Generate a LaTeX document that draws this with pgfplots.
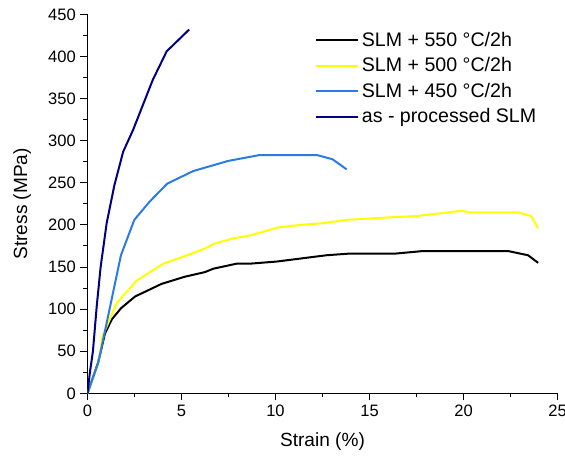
\documentclass[border=0pt]{standalone}
\usepackage{pgfplots}
\pgfplotsset{compat=1.18}
\usepackage{fontspec}
\setmainfont{Liberation Sans}

\definecolor{c450}{RGB}{42,123,228}
\definecolor{cas}{RGB}{0,0,128}
\definecolor{c500}{RGB}{255,255,0}

\begin{document}
\begin{tikzpicture}
\begin{axis}[
    at={(0pt,0pt)}, anchor=south west,
    width=352.5pt, height=284.25pt, scale only axis,
    xmin=0, xmax=25, ymin=0, ymax=450,
    xtick={0,5,10,15,20,25},
    ytick={0,50,100,150,200,250,300,350,400,450},
    minor x tick num=1, minor y tick num=1,
    axis x line*=bottom, axis y line*=left,
    axis line style={-, line width=1pt},
    tick align=outside,
    major tick length=5.25pt, minor tick length=3pt,
    every tick/.style={black, line width=0.75pt},
    /pgf/number format/assume math mode=true,
    ticklabel style={font=\fontsize{12.4}{14}\selectfont},
    xlabel={Strain (\%)}, ylabel={Stress (MPa)},
    label style={font=\fontsize{14.3}{17}\selectfont},
    x label style={at={(axis description cs:0.5,-0.1267)}, anchor=center},
    y label style={at={(axis description cs:-0.139,0.5)}, anchor=center},
    legend style={at={(axis description cs:0.474,0.968)}, anchor=north west,
        draw=none, fill=none, font=\fontsize{14.7}{17.6}\selectfont,
        row sep=3pt, cells={anchor=west}},
    legend image code/.code={\draw[#1] (0pt,0pt) -- (32pt,0pt);},
    every axis plot/.append style={line width=1.5pt, line join=round},
]
\addplot[black] coordinates {(0,0) (0.57,37) (0.93,71) (1.3,88) (1.78,101) (2.53,115) (3.94,130) (5.18,138.5) (6.25,144) (6.69,148) (7.93,154) (8.64,154) (10.06,156.5) (11.3,160) (12.72,164) (13.96,166) (16.4,166) (17.85,169) (22.37,169) (23.43,164) (23.97,155)};
\addlegendentry{SLM + 550 °C/2h}
\addplot[c500] coordinates {(0,0) (0.58,36) (0.8,68) (1.55,107) (2.62,134) (4.03,154) (4.93,161) (6.25,172) (6.78,178) (7.75,184) (8.73,188) (10.14,197) (11.3,200) (12.5,202) (13.78,206) (16.08,209) (17.5,210.5) (19.98,217) (20.19,215) (22.9,215) (23.6,210.5) (23.97,196)};
\addlegendentry{SLM + 500 °C/2h}
\addplot[c450] coordinates {(0,0) (0.57,36) (1.78,164) (2.49,206) (3.32,228) (4.24,249) (5.63,264) (7.49,276) (9.17,283) (12.19,283) (13.03,278) (13.78,266)};
\addlegendentry{SLM + 450 °C/2h}
\addplot[cas] coordinates {(0,0) (0.13,25) (0.29,50) (0.49,103) (0.70,150) (1.02,202) (1.43,247) (1.9,287) (2.43,313) (3.47,372) (4.21,406) (5.41,432)};
\addlegendentry{as - processed SLM}
\end{axis}
\pgfresetboundingbox
\useasboundingbox (-65.6pt,-47.8pt) rectangle (358.1pt,295pt);
\end{tikzpicture}
\end{document}
